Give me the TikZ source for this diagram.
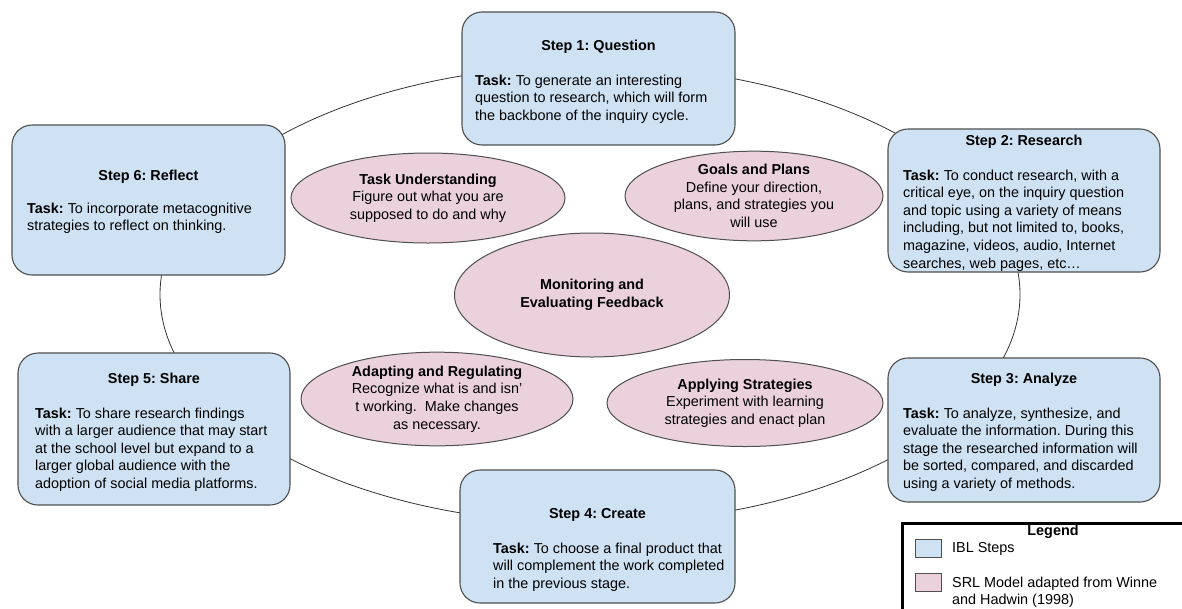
\documentclass[tikz,border=0pt]{standalone}
\usepackage{fontspec}
\setmainfont{Liberation Sans}
\usetikzlibrary{shapes.geometric}
\definecolor{iblblue}{HTML}{CFE2F3}
\definecolor{srlpink}{HTML}{EAD1DC}
\definecolor{edgegray}{HTML}{4F4F4F}
\newcommand{\txtsz}{\fontsize{14.4}{17.6}\selectfont\frenchspacing}
\begin{document}
\begin{tikzpicture}[x=1pt,y=-1pt,
  stepbox/.style={draw=edgegray, line width=1.1pt, fill=iblblue, rounded corners=20pt, inner sep=0pt, outer sep=0pt},
  srl/.style={ellipse, draw=edgegray, line width=1pt, fill=srlpink, inner sep=0pt, align=center, font=\txtsz},
  steptitle/.style={anchor=base, inner sep=0pt, font=\txtsz\bfseries},
  stepbody/.style={anchor=north west, inner sep=0pt, align=left, font=\txtsz},
  cycleline/.style={draw=black!80, line width=0.8pt},
  swatch/.style={draw=edgegray, line width=0.8pt, minimum width=26pt, minimum height=18pt, inner sep=0pt},
  legendbox/.style={draw=black, line width=2.5pt, anchor=north west, minimum width=320pt, minimum height=120pt, inner sep=0pt}]
\clip (0,0) rectangle (1182,608);
\fill[white] (0,0) rectangle (1182,608);
% cycle
\draw[cycleline] (590,294.5) ellipse [x radius=430, y radius=229];
% step boxes
\node[stepbox, minimum width=273pt, minimum height=133pt] (s1) at (598.5,78.5) {};
\node[stepbox, minimum width=272pt, minimum height=143pt] (s2) at (1024,200.5) {};
\node[stepbox, minimum width=272pt, minimum height=144pt] (s3) at (1024,430) {};
\node[stepbox, minimum width=275pt, minimum height=133pt] (s4) at (597.5,536.5) {};
\node[stepbox, minimum width=272pt, minimum height=152pt] (s5) at (154,429) {};
\node[stepbox, minimum width=273pt, minimum height=150pt] (s6) at (148.5,200) {};
% titles
\node[steptitle] (s1t) at (598.5,50) {Step 1: Question};
\node[steptitle] (s2t) at (1024,145) {Step 2: Research};
\node[steptitle] (s3t) at (1024,383) {Step 3: Analyze};
\node[steptitle] (s4t) at (597.5,518) {Step 4: Create};
\node[steptitle] (s5t) at (154,383) {Step 5: Share};
\node[steptitle] (s6t) at (148.5,180) {Step 6: Reflect};
% bodies
\node[stepbody] (s1b) at (475,74.5) {\textbf{Task:} To generate an interesting\\question to research, which will form\\the backbone of the inquiry cycle.};
\node[stepbody] (s2b) at (903,169.5) {\textbf{Task:} To conduct research, with a\\critical eye, on the inquiry question\\and topic using a variety of means\\including, but not limited to, books,\\magazine, videos, audio, Internet\\searches, web pages, etc…};
\node[stepbody] (s3b) at (903,407.5) {\textbf{Task:} To analyze, synthesize, and\\evaluate the information. During this\\stage the researched information will\\be sorted, compared, and discarded\\using a variety of methods.};
\node[stepbody] (s4b) at (493,542.5) {\textbf{Task:} To choose a final product that\\will complement the work completed\\in the previous stage.};
\node[stepbody] (s5b) at (35,407.5) {\textbf{Task:} To share research findings\\with a larger audience that may start\\at the school level but expand to a\\larger global audience with the\\adoption of social media platforms.};
\node[stepbody] (s6b) at (27,202.5) {\textbf{Task:} To incorporate metacognitive\\strategies to reflect on thinking.};
% SRL ellipses
\node[srl, minimum width=274pt, minimum height=90pt] (tu) at (428,198) {\textbf{Task Understanding}\\Figure out what you are\\supposed to do and why};
\node[srl, minimum width=258pt, minimum height=88pt] (gp) at (754,196) {\textbf{Goals and Plans}\\Define your direction,\\plans, and strategies you\\will use};
\node[srl, minimum width=275pt, minimum height=124pt] (mf) at (592,295) {\textbf{Monitoring and}\\\textbf{Evaluating Feedback}};
\node[srl, minimum width=272pt, minimum height=92pt] (ar) at (437,399) {\textbf{Adapting and Regulating}\\Recognize what is and isn'\\t working.\ \ Make changes\\as necessary.};
\node[srl, minimum width=276pt, minimum height=87pt] (as) at (745,403) {\textbf{Applying Strategies}\\Experiment with learning\\strategies and enact plan};
% legend
\node[legendbox] (leg) at (901,522) {};
\node[steptitle] (legt) at (1053,535) {Legend};
\node[swatch, fill=iblblue] (lb) at (928,548) {};
\node[anchor=base west, inner sep=0pt, font=\txtsz] (lbt) at (952,552) {IBL Steps};
\node[swatch, fill=srlpink] (lp) at (928,582) {};
\node[stepbody] (lpt) at (952,576.5) {SRL Model adapted from Winne\\and Hadwin (1998)};
\end{tikzpicture}
\end{document}
